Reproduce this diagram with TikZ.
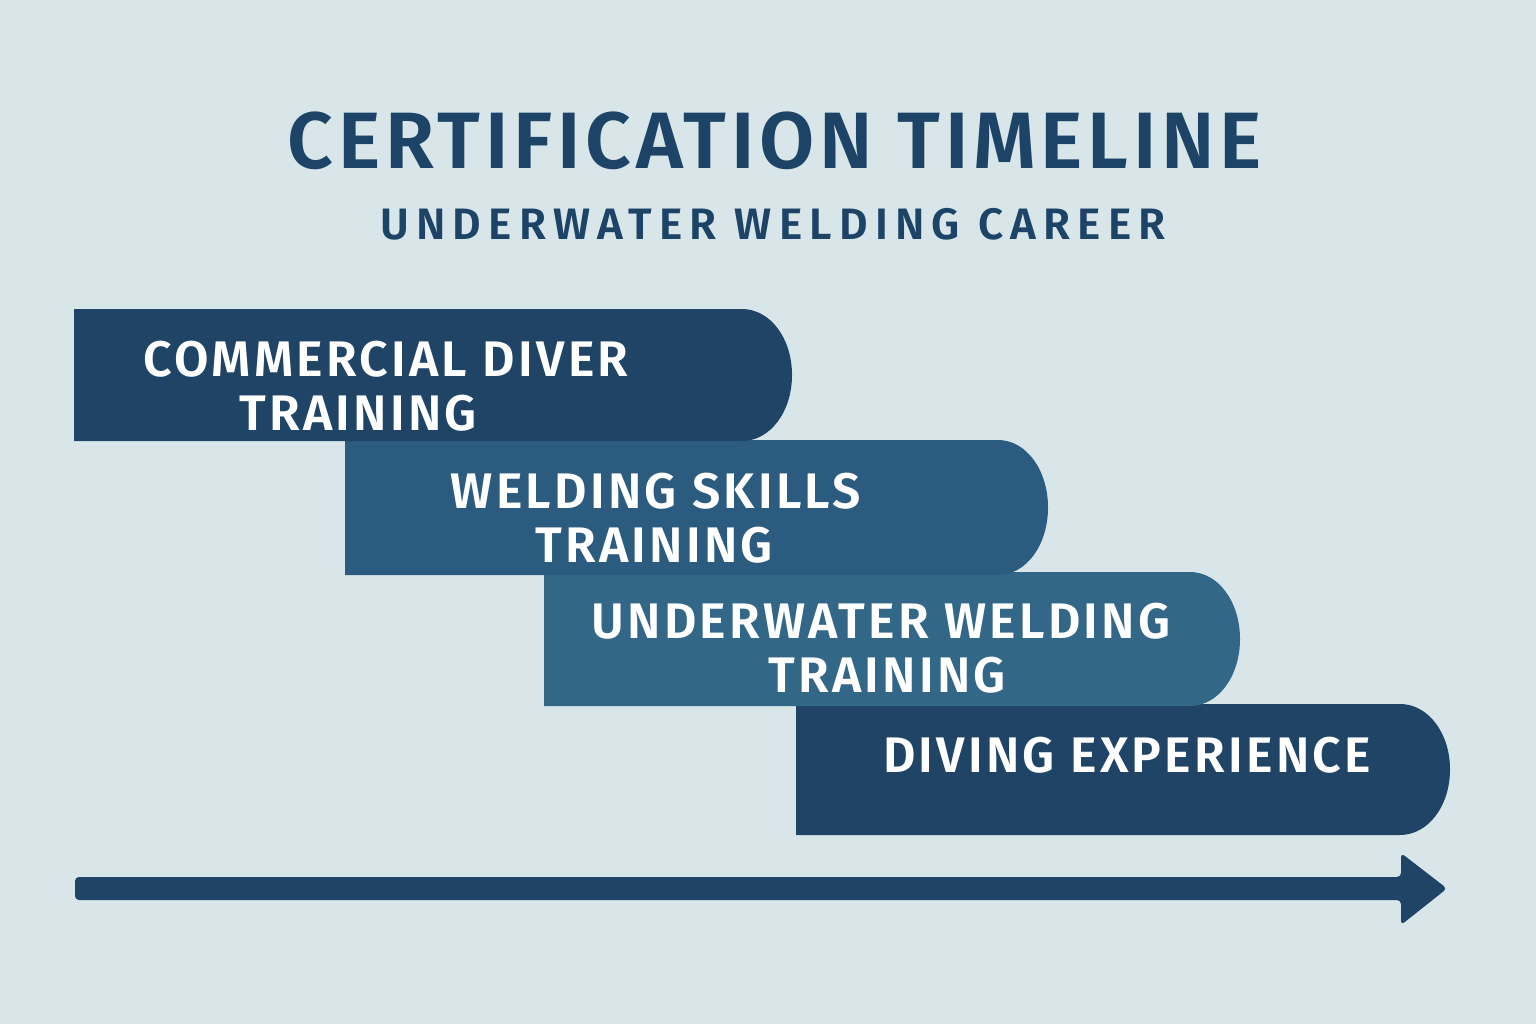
\documentclass[tikz,border=0pt]{standalone}
\usepackage{fontspec}
\setmainfont{Fira Sans}
\newfontfamily\titlefont[LetterSpace=6]{Fira Sans SemiBold}
\newfontfamily\lblfont[LetterSpace=6.5]{Fira Sans SemiBold}
\newfontfamily\subfont[LetterSpace=16.5]{Fira Sans SemiBold}
\definecolor{bgc}{HTML}{D8E6EA}
\definecolor{darkc}{HTML}{1F4466}
\definecolor{midc}{HTML}{2B5B7E}
\definecolor{lightc}{HTML}{336788}
\definecolor{titlec}{HTML}{1D4466}
\newcommand{\barshape}[5]{% fill, x1, y1, x2, y2
  \pgfmathsetmacro{\ym}{(#3+#5)/2}%
  \pgfmathsetmacro{\hh}{(#5-#3)/2}%
  \fill[#1] (#2,#3) -- (#4-50,#3)
    .. controls (#4-50+28,#3) and (#4,\ym-0.56*\hh) .. (#4,\ym)
    .. controls (#4,\ym+0.56*\hh) and (#4-50+28,#5) .. (#4-50,#5)
    -- (#2,#5) -- cycle;}
\begin{document}
\begin{tikzpicture}[x=1pt,y=-1pt,
  titletext/.style={text=titlec,font=\titlefont\fontsize{80}{90}\selectfont,inner sep=0pt,anchor=center},
  subtext/.style={text=titlec,font=\subfont\fontsize{44}{50}\selectfont,inner sep=0pt,anchor=center},
  bartext/.style={text=white,font=\lblfont\fontsize{50}{56}\selectfont,inner sep=0pt,anchor=center}]
\useasboundingbox (0,0) rectangle (1536,1024);
\fill[bgc] (0,0) rectangle (1536,1024);
% bars (later ones first so earlier overlap)
\barshape{darkc}{796}{704}{1450}{835}
\barshape{lightc}{544}{572}{1240}{706}
\barshape{midc}{345}{440}{1048}{575}
\barshape{darkc}{74}{309}{792}{441}
% titles
\node[titletext] (title) at (775,141) {CERTIFICATION TIMELINE};
\node[subtext] (sub) at (773,224) {UNDERWATER WELDING CAREER};
% bar texts
\node[bartext] (b1a) at (386,359) {COMMERCIAL DIVER};
\node[bartext] (b1b) at (358,413) {TRAINING};
\node[bartext] (b2a) at (656,491) {WELDING SKILLS};
\node[bartext] (b2b) at (654,545) {TRAINING};
\node[bartext] (b3a) at (881,621) {UNDERWATER WELDING};
\node[bartext] (b3b) at (887,675) {TRAINING};
\node[bartext] (b4a) at (1127,755) {DIVING EXPERIENCE};
% timeline arrow
\fill[darkc,rounded corners=4pt] (75,877) -- (1401,877) -- (1401,853) -- (1447,888.5) -- (1401,925) -- (1401,900) -- (75,900) -- cycle;
\end{tikzpicture}
\end{document}
